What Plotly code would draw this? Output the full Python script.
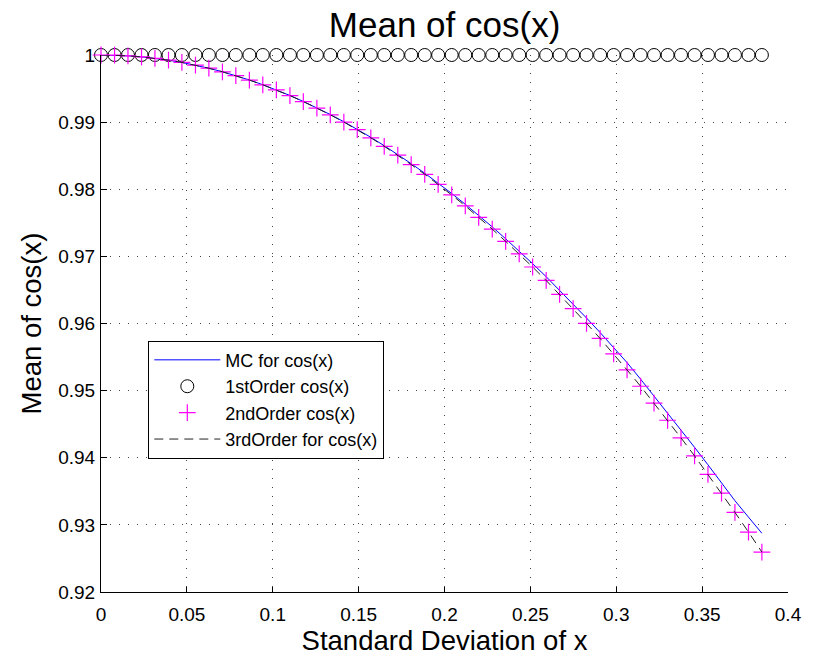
import plotly.graph_objects as go

# Standard deviation of x (sample points)
sigma = [0.0, 0.0079, 0.0157, 0.0236, 0.0314, 0.0393, 0.0471, 0.0550, 0.0628, 0.0707,
         0.0785, 0.0864, 0.0942, 0.1021, 0.1100, 0.1178, 0.1257, 0.1335, 0.1414, 0.1492,
         0.1571, 0.1649, 0.1728, 0.1806, 0.1885, 0.1963, 0.2042, 0.2121, 0.2199, 0.2278,
         0.2356, 0.2435, 0.2513, 0.2592, 0.2670, 0.2749, 0.2827, 0.2906, 0.2985, 0.3063,
         0.3142, 0.3220, 0.3299, 0.3377, 0.3456, 0.3534, 0.3613, 0.3691, 0.3770, 0.3848]

mc_mean = [1.0, 0.99997, 0.99988, 0.99972, 0.99951, 0.99923, 0.99889, 0.99849, 0.99803, 0.99750,
           0.99692, 0.99628, 0.99557, 0.99480, 0.99397, 0.99308, 0.99214, 0.99113, 0.99006, 0.98893,
           0.98774, 0.98649, 0.98518, 0.98382, 0.98239, 0.98091, 0.97937, 0.97776, 0.97611, 0.97439,
           0.97262, 0.97079, 0.96891, 0.96697, 0.96497, 0.96292, 0.96081, 0.95865, 0.95644, 0.95417,
           0.95170, 0.94920, 0.94668, 0.94415, 0.94155, 0.93895, 0.93625, 0.93360, 0.93115, 0.92875]

first_order = [1.0] * 50

second_order = [1.0, 0.99997, 0.99988, 0.99972, 0.99951, 0.99923, 0.99889, 0.99849, 0.99803, 0.99750,
                0.99692, 0.99627, 0.99556, 0.99479, 0.99395, 0.99306, 0.99210, 0.99109, 0.99001, 0.98887,
                0.98766, 0.98640, 0.98507, 0.98368, 0.98223, 0.98072, 0.97915, 0.97752, 0.97582, 0.97406,
                0.97224, 0.97036, 0.96842, 0.96641, 0.96434, 0.96222, 0.96002, 0.95777, 0.95546, 0.95308,
                0.95065, 0.94815, 0.94559, 0.94296, 0.94028, 0.93753, 0.93473, 0.93186, 0.92893, 0.92595]

third_order = [1.0, 0.99997, 0.99988, 0.99972, 0.99951, 0.99923, 0.99889, 0.99849, 0.99803, 0.99750,
               0.99692, 0.99627, 0.99556, 0.99479, 0.99395, 0.99306, 0.99210, 0.99109, 0.99001, 0.98887,
               0.98766, 0.98640, 0.98507, 0.98368, 0.98223, 0.98072, 0.97915, 0.97752, 0.97582, 0.97406,
               0.97224, 0.97036, 0.96842, 0.96641, 0.96434, 0.96222, 0.96002, 0.95777, 0.95546, 0.95308,
               0.95065, 0.94815, 0.94559, 0.94296, 0.94028, 0.93753, 0.93473, 0.93186, 0.92893, 0.92595]

x_ticks = [0, 0.05, 0.1, 0.15, 0.2, 0.25, 0.3, 0.35, 0.4]
x_tick_labels = ["0", "0.05", "0.1", "0.15", "0.2", "0.25", "0.3", "0.35", "0.4"]
y_ticks = [0.92, 0.93, 0.94, 0.95, 0.96, 0.97, 0.98, 0.99, 1.0]
y_tick_labels = ["0.92", "0.93", "0.94", "0.95", "0.96", "0.97", "0.98", "0.99", "1"]

FONT = "Liberation Sans, Arial, Helvetica, sans-serif"

fig = go.Figure()
fig.add_trace(go.Scatter(x=sigma, y=mc_mean, mode="lines", name="MC for cos(x)",
                         line=dict(color="#0000ff", width=1), cliponaxis=False))
fig.add_trace(go.Scatter(x=sigma, y=first_order, mode="markers", name="1stOrder cos(x)",
                         marker=dict(symbol="circle-open", size=13, color="black",
                                     line=dict(width=1, color="black")), cliponaxis=False))
fig.add_trace(go.Scatter(x=sigma, y=second_order, mode="markers", name="2ndOrder cos(x)",
                         marker=dict(symbol="cross-thin-open", size=12, color="#ff00ff",
                                     line=dict(width=1.2, color="#ff00ff")), cliponaxis=False))
fig.add_trace(go.Scatter(x=sigma, y=third_order, mode="lines", name="3rdOrder for cos(x)",
                         line=dict(color="#222222", width=1, dash="9px,6px"), cliponaxis=False))

fig.update_layout(
    width=815, height=656,
    margin=dict(l=101, r=27, t=55, b=62),
    paper_bgcolor="white", plot_bgcolor="white",
    font=dict(family=FONT, color="black", size=19),
    title=dict(text="Mean of cos(x)", x=0.5455, xanchor="center", y=1 - 25 / 656,
               yanchor="middle", yref="container", font=dict(size=35, family=FONT, color="black")),
    showlegend=True,
    legend=dict(x=(148.3 - 101) / 687, y=(594 - 341.7) / 539, xanchor="left", yanchor="top",
                bgcolor="white", bordercolor="black", borderwidth=1,
                font=dict(size=18, family=FONT, color="black"),
                itemwidth=66, tracegroupgap=0),
)

fig.update_xaxes(
    range=[0, 0.4], tickmode="array", tickvals=x_ticks, ticktext=x_tick_labels,
    showline=True, linecolor="black", linewidth=1, ticks="inside", ticklen=5, tickcolor="black",
    showgrid=True, gridcolor="#444444", gridwidth=1, griddash="1px,8px", zeroline=False,
    tickfont=dict(size=19, family=FONT, color="black"), ticklabelstandoff=5,
    title=dict(text="Standard Deviation of x", font=dict(size=27.5, family=FONT, color="black"),
               standoff=0),
)
fig.update_yaxes(
    range=[0.92, 1.0], tickmode="array", tickvals=y_ticks, ticktext=y_tick_labels,
    showline=True, linecolor="black", linewidth=1, ticks="inside", ticklen=6, tickcolor="black",
    showgrid=True, gridcolor="#444444", gridwidth=1, griddash="1px,8px", zeroline=False,
    tickfont=dict(size=19, family=FONT, color="black"), ticklabelstandoff=1,
    title=dict(text="Mean of cos(x)", font=dict(size=27.5, family=FONT, color="black"),
               standoff=8),
)

fig.write_html("out.html")
